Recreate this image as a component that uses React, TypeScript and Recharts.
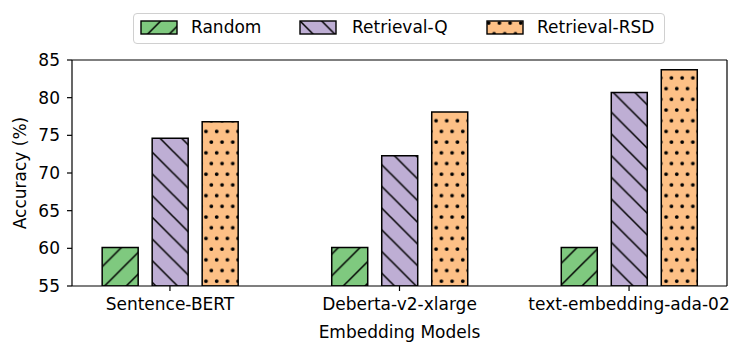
import { BarChart, Bar, XAxis, YAxis, ReferenceLine, Legend, Label } from "recharts";

const categories = ["Sentence-BERT", "Deberta-v2-xlarge", "text-embedding-ada-02"];
const randomAcc = [60.1, 60.1, 60.1];
const retrievalQAcc = [74.6, 72.3, 80.7];
const retrievalRSDAcc = [76.8, 78.1, 83.7];
const yTicks = [55, 60, 65, 70, 75, 80, 85];

const series = [
  { key: "random", name: "Random", color: "#7fc97f", pattern: "hatchSlash" },
  { key: "q", name: "Retrieval-Q", color: "#beaed4", pattern: "hatchBack" },
  { key: "rsd", name: "Retrieval-RSD", color: "#fdc086", pattern: "hatchDots" },
];

const data = categories.map((name, i) => ({
  x: i,
  name,
  random: randomAcc[i],
  q: retrievalQAcc[i],
  rsd: retrievalRSDAcc[i],
}));

const FONT = "DejaVu Sans, sans-serif";
const X_DOMAIN: [number, number] = [-0.4267, 2.4267];

const Patterns = () => (
  <defs>
    <pattern id="hatchSlash" patternUnits="userSpaceOnUse" width="21.7" height="21.7">
      <rect width="21.7" height="21.7" fill="#7fc97f" />
      <path d="M-2,2 L2,-2 M0,21.7 L21.7,0 M19.7,23.7 L23.7,19.7" stroke="#000" strokeWidth="1.5" />
    </pattern>
    <pattern id="hatchBack" patternUnits="userSpaceOnUse" width="21.7" height="21.7">
      <rect width="21.7" height="21.7" fill="#beaed4" />
      <path d="M-2,19.7 L2,23.7 M0,0 L21.7,21.7 M19.7,-2 L23.7,2" stroke="#000" strokeWidth="1.5" />
    </pattern>
    <pattern id="hatchDots" patternUnits="userSpaceOnUse" width="10.7" height="21.4">
      <rect width="10.7" height="21.4" fill="#fdc086" />
      <circle cx="2.7" cy="3" r="1.9" fill="#000" />
      <circle cx="8.05" cy="13.7" r="1.9" fill="#000" />
    </pattern>
  </defs>
);

const LegendBox = () => (
  <div
    style={{
      position: "absolute",
      left: 133,
      top: 13,
      width: 532,
      height: 31,
      border: "1px solid #d0d0d0",
      borderRadius: 4,
      background: "rgba(255,255,255,0.8)",
      boxSizing: "border-box",
      fontFamily: FONT,
      fontSize: 17,
    }}
  >
    {series.map((s, i) => {
      const swatchX = [140, 299, 486][i] - 133;
      const textX = [191, 352, 537][i] - 133;
      return (
        <div key={s.key}>
          <svg
            width={38}
            height={15}
            style={{ position: "absolute", left: swatchX - 1, top: 6 }}
          >
            <rect x={1} y={1} width={36} height={13} fill={`url(#${s.pattern})`} stroke="#000" strokeWidth={1.4} />
          </svg>
          <span style={{ position: "absolute", left: textX - 1, top: 3, lineHeight: "20px", color: "#000" }}>
            {s.name}
          </span>
        </div>
      );
    })}
  </div>
);

export default function App() {
  return (
    <div style={{ position: "relative", width: 747, height: 353, background: "#fff" }}>
      <style>{`body{margin:0;}`}</style>
      <BarChart
        width={747}
        height={353}
        data={data}
        margin={{ top: 60, right: 20, bottom: 0, left: 0 }}
        barGap={14}
      >
        <Patterns />
        <XAxis
          dataKey="x"
          type="number"
          domain={X_DOMAIN}
          ticks={[0, 1, 2]}
          allowDataOverflow
          height={67}
          tickFormatter={(v: number) => categories[v] ?? ""}
          tick={{ fill: "#000", fontSize: 17, fontFamily: FONT }}
          tickSize={5}
          tickMargin={7}
          axisLine={{ stroke: "#000", strokeWidth: 1.2 }}
          tickLine={{ stroke: "#000", strokeWidth: 1.2 }}
          interval={0}
        >
          <Label
            content={() => (
              <text x={399.5} y={338} textAnchor="middle" fontSize={17} fontFamily={FONT} fill="#000">
                Embedding Models
              </text>
            )}
          />
        </XAxis>
        <YAxis
          type="number"
          domain={[55, 85]}
          ticks={yTicks}
          allowDataOverflow
          width={72}
          tick={{ fill: "#000", fontSize: 17, fontFamily: FONT }}
          tickSize={5}
          tickMargin={7}
          axisLine={{ stroke: "#000", strokeWidth: 1.2 }}
          tickLine={{ stroke: "#000", strokeWidth: 1.2 }}
        >
          <Label
            content={() => (
              <text
                x={20}
                y={173}
                textAnchor="middle"
                dominantBaseline="central"
                fontSize={17}
                fontFamily={FONT}
                fill="#000"
                transform="rotate(-90 20 173)"
              >
                Accuracy (%)
              </text>
            )}
          />
        </YAxis>
        <ReferenceLine y={85} stroke="#000" strokeWidth={1.2} ifOverflow="visible" />
        <ReferenceLine x={X_DOMAIN[1]} stroke="#000" strokeWidth={1.2} ifOverflow="visible" />
        {series.map((s) => (
          <Bar
            key={s.key}
            dataKey={s.key}
            name={s.name}
            barSize={36}
            fill={`url(#${s.pattern})`}
            stroke="#000"
            strokeWidth={1.5}
            isAnimationActive={false}
          />
        ))}
        <Legend content={() => null} />
      </BarChart>
      <LegendBox />
    </div>
  );
}
